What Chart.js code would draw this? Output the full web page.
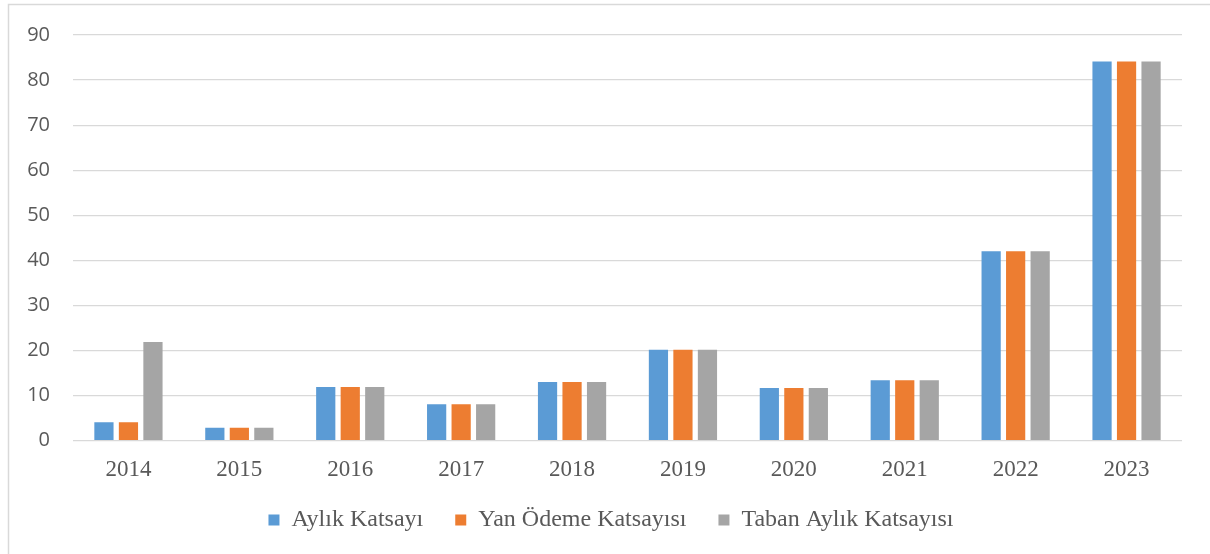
<!DOCTYPE html>
<html>
<head>
<meta charset="utf-8">
<script src="https://cdn.jsdelivr.net/npm/chart.js@4.4.1/dist/chart.umd.min.js"></script>
<style>
  html, body { margin: 0; padding: 0; background: #fff; }
  canvas { display: block; }
</style>
</head>
<body>
<canvas id="myChart" width="1210" height="554"></canvas>
<script>
const yillar = ['2014', '2015', '2016', '2017', '2018', '2019', '2020', '2021', '2022', '2023'];

const aylikKatsayi = [4.1, 2.9, 11.9, 8.1, 13.0, 20.2, 11.7, 13.4, 42.0, 84.1];
const yanOdemeKatsayisi = [4.1, 2.9, 11.9, 8.1, 13.0, 20.2, 11.7, 13.4, 42.0, 84.1];
const tabanAylikKatsayisi = [21.9, 2.9, 11.9, 8.1, 13.0, 20.2, 11.7, 13.4, 42.0, 84.1];

const yTicks = [0, 10, 20, 30, 40, 50, 60, 70, 80, 90];

const yaziRengi = '#595959';
const izgaraRengi = '#D9D9D9';

// frame of the original chart box (only left and top edges are visible)
const cerceve = {
    id: 'cerceve',
    beforeDraw(chart) {
        const ctx = chart.ctx;
        ctx.save();
        ctx.strokeStyle = izgaraRengi;
        ctx.lineWidth = 1.5;
        ctx.beginPath();
        ctx.moveTo(8.5, chart.height);
        ctx.lineTo(8.5, 4.5);
        ctx.lineTo(chart.width, 4.5);
        ctx.stroke();
        ctx.restore();
    }
};

// legend keeps wide gaps between items but a smaller box, nudged into place
const legendYeri = {
    id: 'legendYeri',
    beforeLayout(chart) {
        const lg = chart.legend;
        if (lg && !lg._yamali) {
            const eskiFit = lg.fit;
            lg.fit = function () {
                eskiFit.call(this);
                this.height = 63.3;
            };
            lg._yamali = true;
        }
    },
    afterLayout(chart) {
        const lg = chart.legend;
        if (!lg) return;
        lg.top -= 14.7;
        lg.bottom -= 14.7;
        lg.left += 20;
        lg.right += 20;
    }
};

const data = {
    labels: yillar,
    datasets: [
        {
            label: 'Aylık Katsayı',
            data: aylikKatsayi,
            backgroundColor: '#5B9BD5'
        },
        {
            label: 'Yan Ödeme Katsayısı',
            data: yanOdemeKatsayisi,
            backgroundColor: '#ED7D31'
        },
        {
            label: 'Taban Aylık Katsayısı',
            data: tabanAylikKatsayisi,
            backgroundColor: '#A5A5A5'
        }
    ]
};

const config = {
    type: 'bar',
    data: data,
    options: {
        responsive: false,
        animation: false,
        datasets: {
            bar: {
                categoryPercentage: 0.663,
                barPercentage: 0.784
            }
        },
        layout: {
            padding: { left: 0, top: 34, right: 28, bottom: 0 }
        },
        scales: {
            x: {
                grid: { display: false },
                border: { display: false },
                ticks: {
                    color: yaziRengi,
                    padding: 7,
                    font: { family: '"Liberation Serif", "Times New Roman", serif', size: 23 }
                },
                afterFit(scale) {
                    scale.height = 50;
                }
            },
            y: {
                min: 0,
                max: 90,
                grid: {
                    color: izgaraRengi,
                    lineWidth: 1.3,
                    drawTicks: false
                },
                border: { display: false },
                afterBuildTicks(scale) {
                    scale.ticks = yTicks.map(v => ({ value: v }));
                },
                ticks: {
                    color: yaziRengi,
                    padding: 23,
                    font: { family: '"Open Sans", sans-serif', size: 20 }
                },
                afterFit(scale) {
                    scale.width = 73;
                }
            }
        },
        plugins: {
            legend: {
                position: 'bottom',
                labels: {
                    color: yaziRengi,
                    boxWidth: 11,
                    boxHeight: 11,
                    padding: 32,
                    font: { family: '"Liberation Serif", "Times New Roman", serif', size: 24 }
                }
            },
            tooltip: { enabled: false }
        }
    },
    plugins: [cerceve, legendYeri]
};

const myChart = new Chart(
    document.getElementById('myChart'),
    config
);
</script>
</body>
</html>
